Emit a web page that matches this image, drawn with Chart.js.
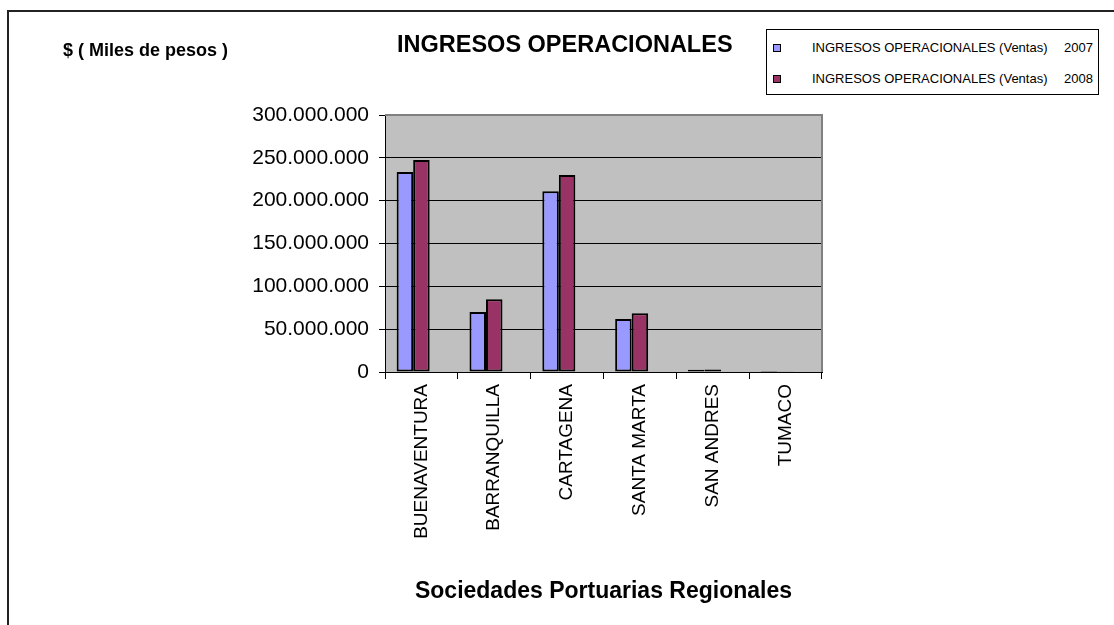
<!DOCTYPE html>
<html>
<head>
<meta charset="utf-8">
<script src="https://cdn.jsdelivr.net/npm/chart.js@4.4.0/dist/chart.umd.min.js"></script>
<style>
    html, body { margin: 0; padding: 0; background: #fff; }
    body { width: 1114px; height: 625px; position: relative; overflow: hidden; font-family: "Liberation Sans", Arial, sans-serif; }
    #frame { position: absolute; left: 7px; top: 10px; width: 1300px; height: 800px; border: 2px solid #222; box-sizing: border-box; }
    #wrap { position: absolute; left: 0; top: 0; width: 1114px; height: 625px; }
    .txt { position: absolute; color: #000; font-weight: bold; white-space: nowrap; }
    #unit { left: 63px; top: 40px; font-size: 18px; }
    #title { left: 397px; top: 31px; font-size: 23.5px; }
    #legend { position: absolute; left: 766px; top: 29px; width: 333px; height: 66px; border: 1px solid #000; box-sizing: border-box; background: #fff; }
    .item { position: absolute; left: 6px; height: 16px; font-size: 13px; color: #000; }
    .item .sw { position: absolute; left: 0; top: 3px; width: 6px; height: 6px; border: 1px solid #000; }
    .item .lbl { position: absolute; left: 39px; top: -1px; white-space: nowrap; }
    .item .yr { position: absolute; left: 291px; top: -1px; }
</style>
</head>
<body>
<div id="frame"></div>
<div id="wrap"><canvas id="chart" width="1114" height="625"></canvas></div>
<div class="txt" id="unit">$ ( Miles de pesos )</div>
<div class="txt" id="title">INGRESOS OPERACIONALES</div>
<div id="legend"></div>
<script>
const categories = ['BUENAVENTURA', 'BARRANQUILLA', 'CARTAGENA', 'SANTA MARTA', 'SAN ANDRES', 'TUMACO'];
const seriesNames = ['INGRESOS OPERACIONALES (Ventas)', 'INGRESOS OPERACIONALES (Ventas)'];
const seriesYears = ['2007', '2008'];
const ventas2007 = [233500000, 70000000, 211000000, 62000000, 2500000, 1200000];
const ventas2008 = [247500000, 85000000, 230000000, 68500000, 3000000, 800000];
const seriesColors = ['#9999FF', '#993366'];
const yTicks = [0, 50000000, 100000000, 150000000, 200000000, 250000000, 300000000];

function formatMiles(v) {
    return String(v).replace(/\B(?=(\d{3})+(?!\d))/g, '.');
}

// legend box
const legend = document.getElementById('legend');
seriesNames.forEach((name, i) => {
    const item = document.createElement('div');
    item.className = 'item';
    item.style.top = (i === 0 ? 11 : 42) + 'px';
    item.innerHTML = '<span class="sw" style="background:' + seriesColors[i] + '"></span>' +
        '<span class="lbl">' + name + '</span><span class="yr">' + seriesYears[i] + '</span>';
    legend.appendChild(item);
});

const plotBackground = {
    id: 'plotBackground',
    beforeDraw(chart) {
        const { ctx, chartArea } = chart;
        ctx.save();
        ctx.fillStyle = '#C0C0C0';
        ctx.fillRect(chartArea.left, chartArea.top, chartArea.right - chartArea.left, chartArea.bottom - chartArea.top);
        ctx.restore();
    },
    beforeDatasetsDraw(chart) {
        const { ctx, chartArea } = chart;
        ctx.save();
        ctx.strokeStyle = '#808080';
        ctx.lineWidth = 2;
        ctx.beginPath();
        ctx.moveTo(chartArea.left, chartArea.top);
        ctx.lineTo(chartArea.right, chartArea.top);
        ctx.lineTo(chartArea.right, chartArea.bottom);
        ctx.stroke();
        ctx.restore();
    }
};

new Chart(document.getElementById('chart'), {
    type: 'bar',
    data: {
        labels: categories,
        datasets: [{
            label: seriesNames[0] + ' ' + seriesYears[0],
            data: ventas2007,
            backgroundColor: seriesColors[0],
            borderColor: '#000',
            borderWidth: 2,
            borderSkipped: false
        }, {
            label: seriesNames[1] + ' ' + seriesYears[1],
            data: ventas2008,
            backgroundColor: seriesColors[1],
            borderColor: '#000',
            borderWidth: 2,
            borderSkipped: false
        }, {
            // empty slot: the original sheet keeps room for a third bar, so the pair sits left of centre
            label: '',
            data: []
        }]
    },
    options: {
        responsive: false,
        animation: false,
        layout: {
            padding: { left: 0, right: 292, top: 115, bottom: 0 }
        },
        plugins: {
            legend: { display: false },
            tooltip: { enabled: false }
        },
        datasets: {
            bar: { categoryPercentage: 0.68, barPercentage: 1 }
        },
        scales: {
            x: {
                afterFit(scale) { scale.height = 253; },
                grid: {
                    display: true,
                    drawOnChartArea: false,
                    color: '#000',
                    tickLength: 7
                },
                border: { display: true, color: '#000', width: 1 },
                ticks: {
                    color: '#000',
                    font: { family: 'Liberation Sans', size: 19 },
                    minRotation: 90,
                    maxRotation: 90,
                    padding: 5
                },
                title: {
                    display: true,
                    text: 'Sociedades Portuarias Regionales',
                    color: '#000',
                    font: { family: 'Liberation Sans', size: 23, weight: 'bold' },
                    padding: { top: 4, bottom: 20 }
                }
            },
            y: {
                min: 0,
                max: 300000000,
                afterFit(scale) { scale.width = 385; },
                afterBuildTicks(scale) { scale.ticks = yTicks.map(v => ({ value: v })); },
                grid: {
                    color: (c) => c.tick && c.tick.value === 300000000 ? 'rgba(0,0,0,0)' : '#000',
                    lineWidth: 1,
                    tickLength: 6,
                    tickColor: '#000'
                },
                border: { display: true, color: '#000', width: 1 },
                ticks: {
                    color: '#000',
                    font: { family: 'Liberation Sans', size: 21 },
                    padding: 10,
                    callback: (v) => formatMiles(v)
                }
            }
        }
    },
    plugins: [plotBackground]
});
</script>
</body>
</html>
